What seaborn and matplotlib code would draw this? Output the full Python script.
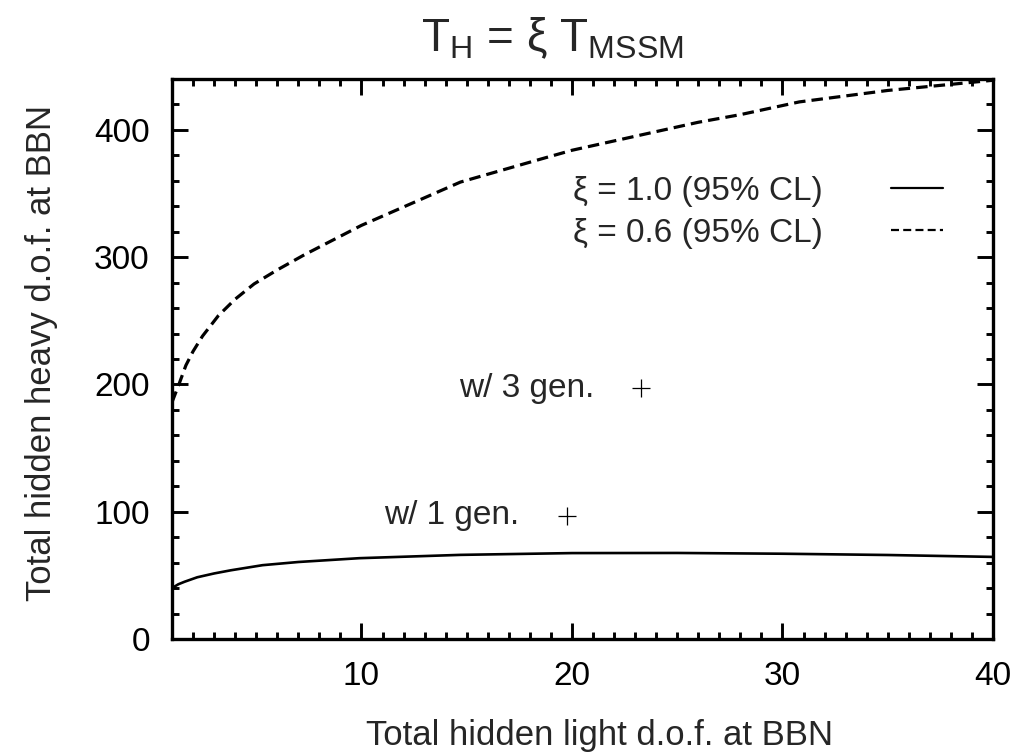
import numpy as np
import pandas as pd
import seaborn as sns
import matplotlib
matplotlib.use("Agg")
import matplotlib.pyplot as plt
from matplotlib.ticker import MultipleLocator
from matplotlib.lines import Line2D

# Upper bound on hidden heavy d.o.f. vs hidden light d.o.f. (95% CL)
light_xi10 = [1.0, 1.3, 1.6, 2.2, 3.0, 3.8, 5.3, 7.0, 9.9, 14.7, 20.0, 25.0, 30.0, 35.0, 40.0]
heavy_xi10 = [40.0, 43.0, 45.0, 48.5, 51.5, 54.0, 58.0, 60.5, 63.5, 66.1, 67.5, 67.6, 67.0, 66.0, 64.5]

light_xi06 = [1.0, 1.35, 1.66, 2.0, 2.45, 3.2, 4.0, 4.9, 6.0, 7.3, 10.0, 14.7,
              18.5, 20.0, 26.0, 28.0, 30.8, 35.0, 40.0]
heavy_xi06 = [186.0, 201.0, 215.0, 226.0, 238.0, 254.0, 267.0, 279.0, 290.0, 302.0,
              325.0, 359.0, 377.0, 384.0, 406.0, 412.0, 422.0, 431.0, 439.0]

# Benchmark models
gen_labels = ["w/ 1 gen.", "w/ 3 gen."]
gen_light = [19.75, 23.3]
gen_heavy = [97.0, 197.0]

series_labels = ["ξ = 1.0 (95% CL)", "ξ = 0.6 (95% CL)"]

sns.set_theme(style="ticks")
plt.rcParams["font.family"] = ["Liberation Sans", "DejaVu Sans"]
plt.rcParams["mathtext.fontset"] = "custom"
plt.rcParams["mathtext.rm"] = "Liberation Sans"
plt.rcParams["mathtext.it"] = "Liberation Sans"

FS = 24
LABEL_FS = 25
DASH = (0, (3.6, 1.9))

fig = plt.figure(figsize=(10.19, 7.55), dpi=100)
ax = fig.add_axes([172 / 1019, (755 - 639) / 755, 821 / 1019, 560 / 755])

df10 = pd.DataFrame({"light": light_xi10, "heavy": heavy_xi10})
df06 = pd.DataFrame({"light": light_xi06, "heavy": heavy_xi06})
sns.lineplot(data=df10, x="light", y="heavy", ax=ax, color="black", lw=1.9,
             label=series_labels[0])
sns.lineplot(data=df06, x="light", y="heavy", ax=ax, color="black", lw=2.3,
             linestyle=DASH, label=series_labels[1])

gdf = pd.DataFrame({"light": gen_light, "heavy": gen_heavy, "name": gen_labels})
sns.scatterplot(data=gdf, x="light", y="heavy", ax=ax, marker="+", s=170,
                color="black", linewidth=0.9, legend=False)
for x, y, name in zip(gen_light, gen_heavy, gen_labels):
    ax.annotate(name, (x, y), xytext=(-34, 0), textcoords="offset points",
                ha="right", va="center", fontsize=FS)

ax.set_xlim(1, 40)
ax.set_ylim(0, 440)
ax.xaxis.set_major_locator(MultipleLocator(10))
ax.xaxis.set_minor_locator(MultipleLocator(1))
ax.yaxis.set_major_locator(MultipleLocator(100))
ax.yaxis.set_minor_locator(MultipleLocator(20))
ax.tick_params(which="both", direction="in", top=True, right=True, width=2.1,
               color="black", labelsize=FS, labelcolor="black")
ax.tick_params(which="major", length=11.5)
ax.tick_params(which="minor", length=5)
ax.tick_params(axis="x", pad=16)
ax.tick_params(axis="y", pad=16)
for sp in ax.spines.values():
    sp.set_linewidth(2.4)
    sp.set_color("black")
    sp.set_visible(True)

ax.set_xlabel("")
ax.set_ylabel("")
fig.text(600 / 1019, 1 - 735 / 755, "Total hidden light d.o.f. at BBN",
         ha="center", va="center", fontsize=LABEL_FS)
fig.text(42 / 1019, 1 - 353 / 755, "Total hidden heavy d.o.f. at BBN",
         ha="center", va="center", rotation=90, fontsize=LABEL_FS)
fig.text(552 / 1019, 1 - 38 / 755, r"$\mathregular{T_H}$ = ξ $\mathregular{T_{MSSM}}$",
         ha="center", va="center", fontsize=33)

handles = [Line2D([], [], color="black", lw=1.6),
           Line2D([], [], color="black", lw=1.6, linestyle=DASH)]
ax.legend(handles, series_labels, loc="upper right", frameon=False,
          markerfirst=False, fontsize=FS, handlelength=1.55, handletextpad=2.05,
          labelspacing=0.32, borderpad=0, borderaxespad=0,
          bbox_to_anchor=(943 / 1019, 1 - 176 / 755), bbox_transform=fig.transFigure)

fig.savefig("out.png", dpi=100)
